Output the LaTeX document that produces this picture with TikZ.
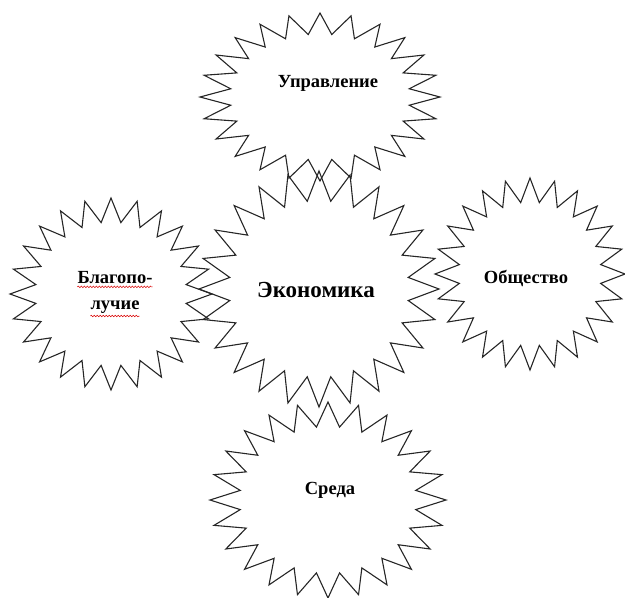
\documentclass[tikz,border=0pt]{standalone}
\usepackage{fontspec}
\setmainfont{Liberation Serif}
\usetikzlibrary{decorations.pathmorphing}
\tikzset{
  burst/.style={draw=black!85, line width=1.1pt, line join=miter},
  lbl/.style={font=\bfseries\fontsize{18.5}{20}\selectfont, inner sep=0pt, align=center},
  biglbl/.style={font=\bfseries\fontsize{23}{25}\selectfont, inner sep=0pt},
  spell/.style={draw=red!85!black, line width=0.5pt, decorate, decoration={snake, amplitude=0.8pt, segment length=3pt}}
}
% \burstat{center}{rx}{ry}
\newcommand{\burstat}[3]{%
  \begin{scope}[shift={(#1)}]
    \draw[burst] (90:#2 and #3)
      \foreach \i in {0,...,23}{
        -- ({97.5+\i*15}:{0.75*#2} and {0.75*#3})
        -- ({105+\i*15}:#2 and #3)
      } -- cycle;
  \end{scope}}
\begin{document}
\begin{tikzpicture}[x=1pt,y=-1pt]
\useasboundingbox (0,0) rectangle (625,598);
\coordinate (cu) at (320,97);
\coordinate (ce) at (319,289);
\coordinate (cb) at (111,294);
\coordinate (co) at (530,274);
\coordinate (cs) at (328,500);
\burstat{cu}{120}{84}
\burstat{ce}{120}{118}
\burstat{cb}{101}{96}
\burstat{co}{95}{96}
\burstat{cs}{118}{98}
\node[lbl] (tu) at (328,83) {Управление};
\node[biglbl] (te) at (316,290) {Экономика};
\node[lbl] (tb1) at (115,278) {Благопо-};
\node[lbl] (tb2) at (115,307) {лучие};
\node[lbl] (to) at (526,278) {Общество};
\node[lbl] (ts) at (330,490) {Среда};
\draw[spell] ([yshift=-2.5pt]tb1.south west) -- ([yshift=-2.5pt]tb1.south east);
\draw[spell] ([yshift=-2.5pt]tb2.south west) -- ([yshift=-2.5pt]tb2.south east);
\end{tikzpicture}
\end{document}
